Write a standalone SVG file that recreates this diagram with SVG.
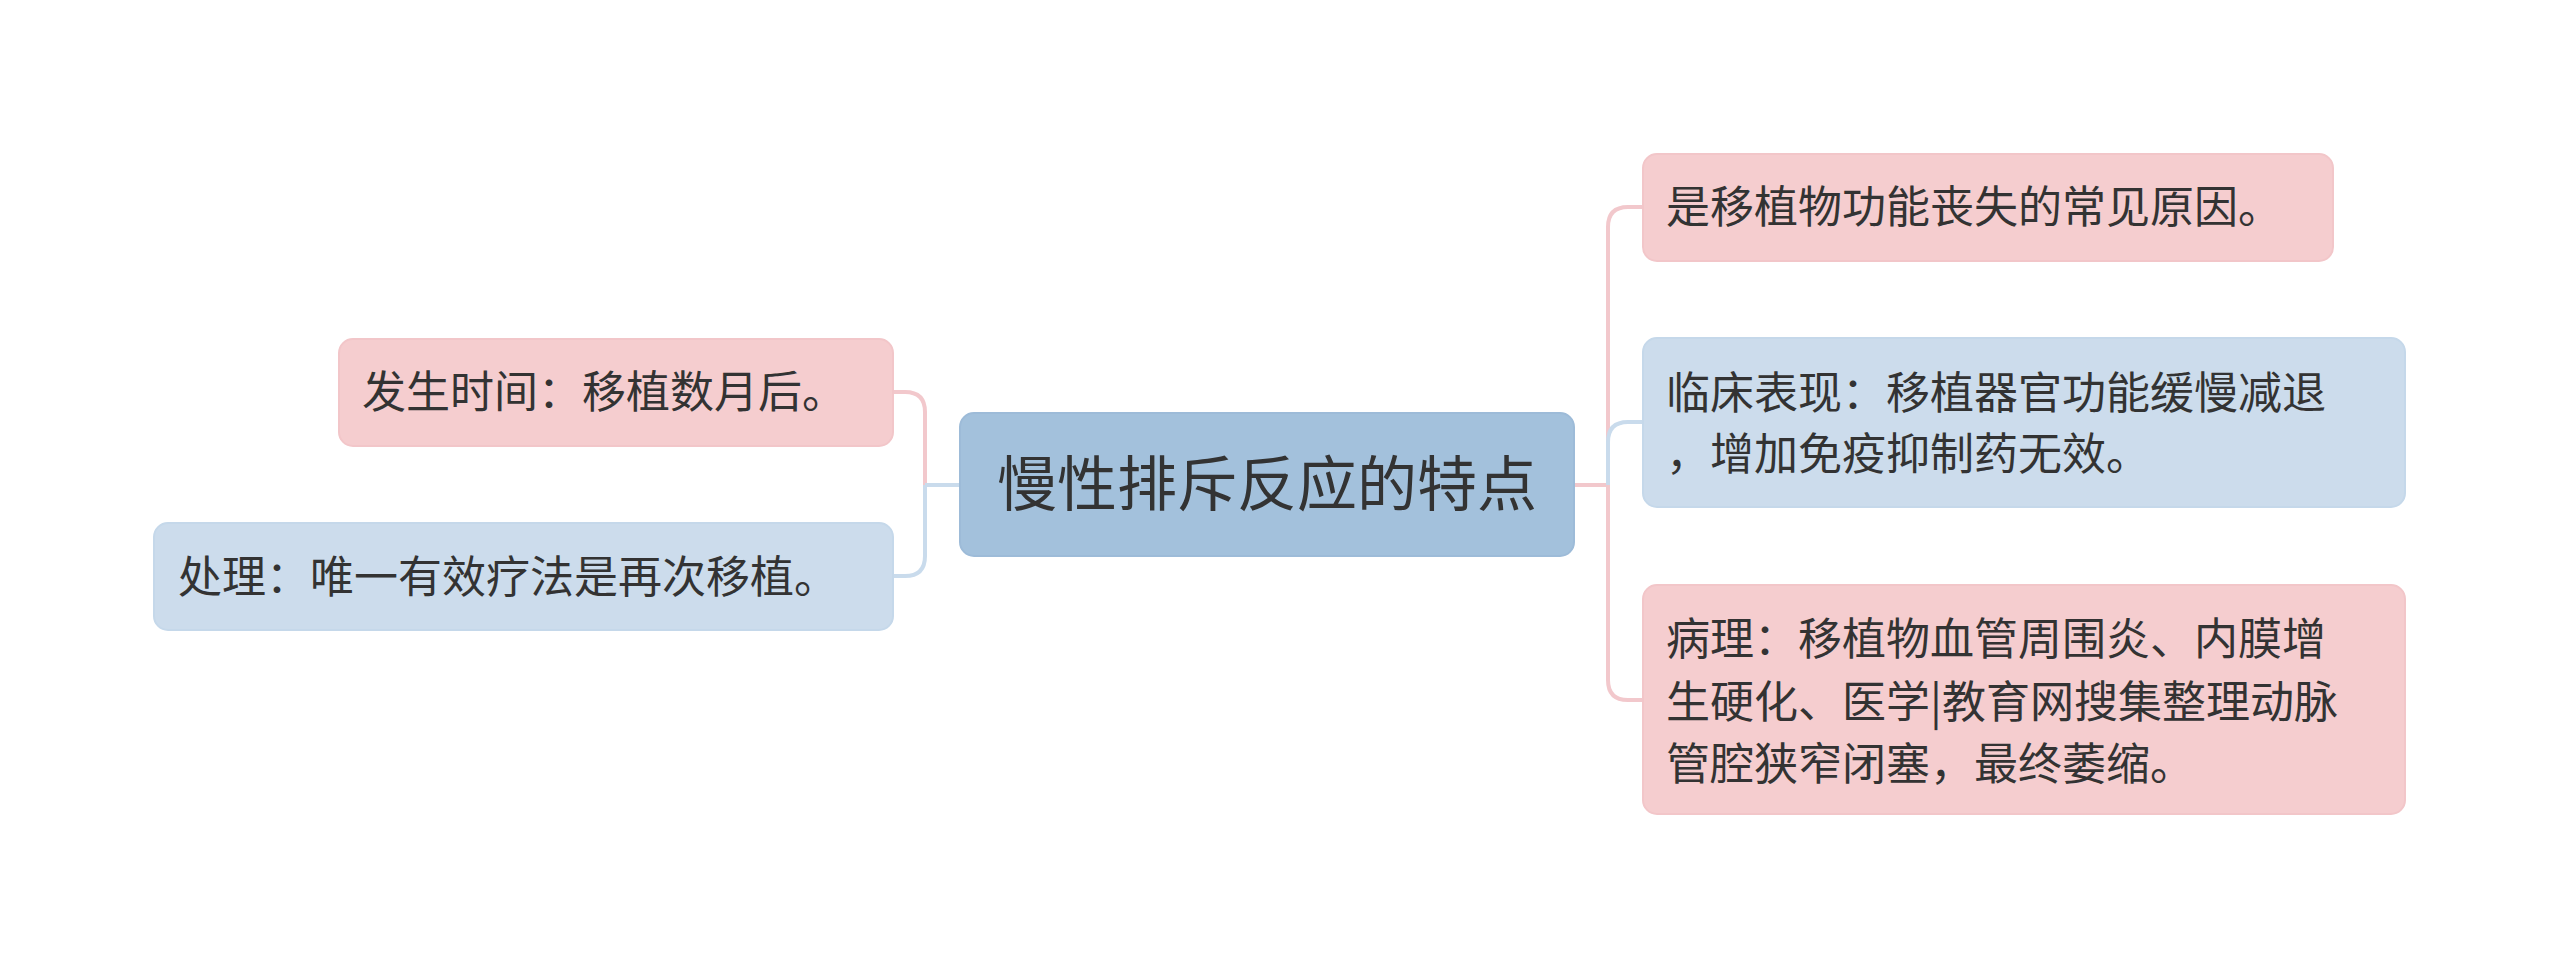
<svg xmlns="http://www.w3.org/2000/svg" width="2560" height="969" viewBox="0 0 2560 969">
<style>
text{font-family:"Noto Sans CJK SC","Noto Sans",sans-serif;fill:#333;font-size:44px}
.p{fill:#f5cdcf;stroke:#f2c6c9;stroke-width:2}
.b{fill:#ccdcec;stroke:#c5d8ea;stroke-width:2}
.lp{fill:none;stroke:#f2c8cc;stroke-width:4}
.lb{fill:none;stroke:#c9dbec;stroke-width:4}
</style>
<rect width="2560" height="969" fill="#fff"/>
<g id="connectors">
<path class="lp" d="M893,392 H905 Q925,392 925,412 V485"/>
<path class="lb" d="M925,485 V556 Q925,576 905,576 H893"/>
<path class="lb" d="M925,485 H960"/>
<path class="lp" d="M1574,485 H1608"/>
<path class="lp" d="M1608,485 V227 Q1608,207 1628,207 H1643"/>
<path class="lb" d="M1608,485 V442 Q1608,422 1628,422 H1643"/>
<path class="lp" d="M1608,485 V680 Q1608,700 1628,700 H1643"/>
</g>
<g id="center">
<rect x="960" y="413" width="614" height="143" rx="14" fill="#a3c1dc" stroke="#9dbbd8" stroke-width="2"/>
<text x="1267" y="506" text-anchor="middle" style="font-size:60px">慢性排斥反应的特点</text>
</g>
<g id="l1">
<rect class="p" x="339" y="339" width="554" height="107" rx="14"/>
<text x="362" y="408">发生时间：移植数月后。</text>
</g>
<g id="l2">
<rect class="b" x="154" y="523" width="739" height="107" rx="14"/>
<text x="178" y="593">处理：唯一有效疗法是再次移植。</text>
</g>
<g id="r1">
<rect class="p" x="1643" y="154" width="690" height="107" rx="14"/>
<text x="1666" y="223">是移植物功能丧失的常见原因。</text>
</g>
<g id="r2">
<rect class="b" x="1643" y="338" width="762" height="169" rx="14"/>
<text x="1666" y="409">临床表现：移植器官功能缓慢减退</text>
<text x="1666" y="470">，增加免疫抑制药无效。</text>
</g>
<g id="r3">
<rect class="p" x="1643" y="585" width="762" height="229" rx="14"/>
<text x="1666" y="655">病理：移植物血管周围炎、内膜增</text>
<text x="1666" y="718">生硬化、医学|教育网搜集整理动脉</text>
<text x="1666" y="780">管腔狭窄闭塞，最终萎缩。</text>
</g>
</svg>
